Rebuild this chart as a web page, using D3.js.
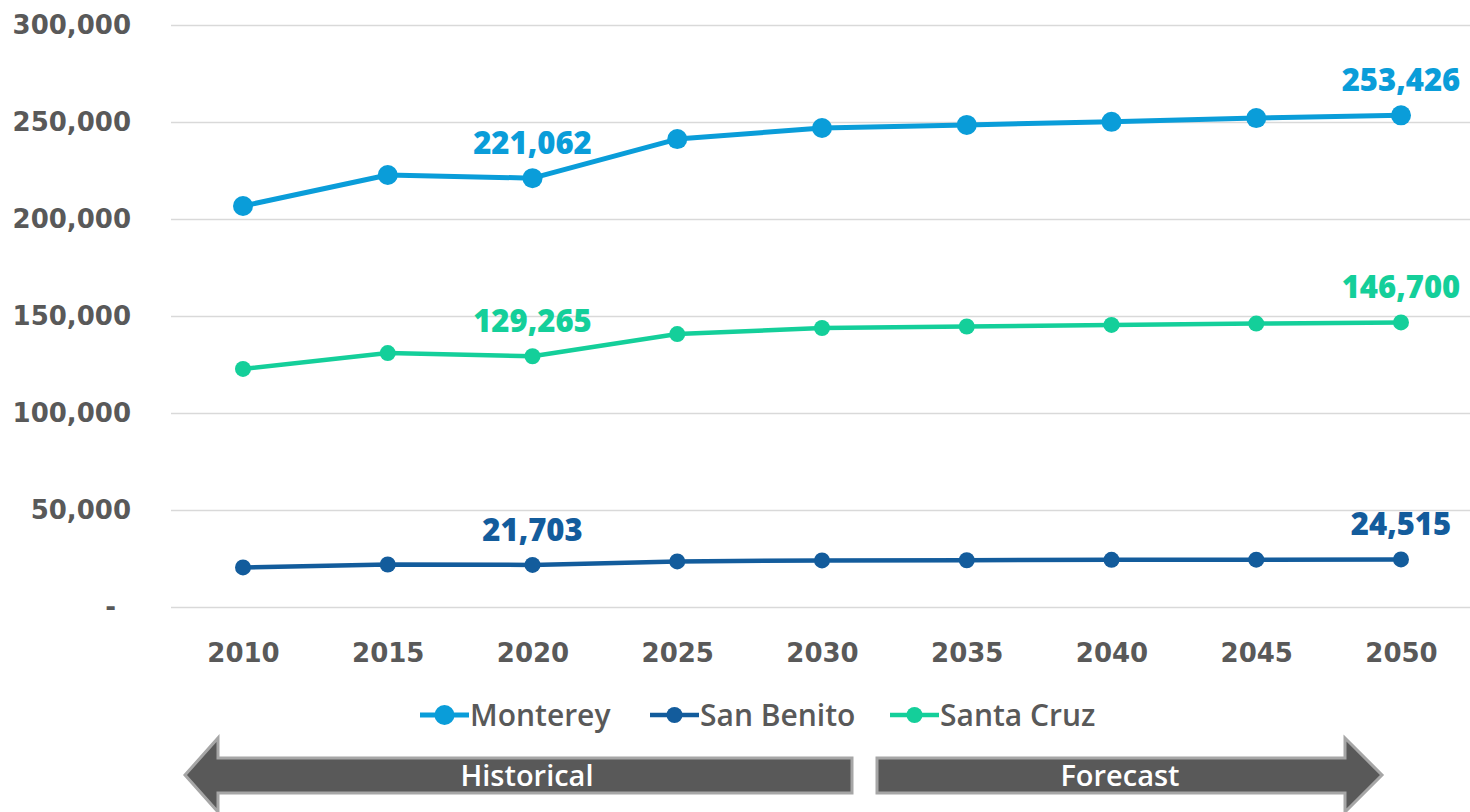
<!DOCTYPE html>
<html lang="en">
<head>
  <meta charset="UTF-8">
  <title>Population by County</title>
  <script src="https://d3js.org/d3.v7.min.js"></script>
  <style>
    body { margin: 0; background: #fff; }
    .ytick text, .xtick text { font-family: "DejaVu Sans", sans-serif; font-weight: bold; fill: #595959; }
    .lbl { font-family: "Open Sans", sans-serif; font-weight: 800; }
    .legend text { font-family: "Open Sans", sans-serif; font-weight: 600; fill: #595959; }
    .arrow-text { font-family: "Open Sans", sans-serif; font-weight: 600; fill: #fff; }
  </style>
</head>
<body>
  <div id="chart"></div>
  <script>
    // data
    const years = [2010, 2015, 2020, 2025, 2030, 2035, 2040, 2045, 2050];
    const monterey = [206700, 222700, 221062, 241200, 246900, 248500, 250100, 252000, 253426];
    const sanBenito = [20400, 21900, 21703, 23500, 24000, 24100, 24300, 24400, 24515];
    const santaCruz = [122700, 130900, 129265, 140700, 143800, 144600, 145400, 146100, 146700];
    const yTicks = [0, 50000, 100000, 150000, 200000, 250000, 300000];
    const labelYears = [2020, 2050];

    const series = [
      { name: 'Monterey', values: monterey, color: '#0a9dd9', r: 10, w: 5 },
      { name: 'San Benito', values: sanBenito, color: '#135c9c', r: 8, w: 4.5 },
      { name: 'Santa Cruz', values: santaCruz, color: '#14cf9a', r: 8, w: 4.5 }
    ];

    const width = 1470, height = 812;
    const svg = d3.select('#chart').append('svg')
      .attr('width', width).attr('height', height);

    const x = d3.scalePoint().domain(years).range([243, 1401]);
    const y = d3.scaleLinear().domain([0, 300000]).range([607, 25]);

    // gridlines + y labels
    const yAxis = svg.append('g')
      .attr('class', 'ytick')
      .attr('transform', 'translate(171,0)')
      .call(d3.axisLeft(y).tickValues(yTicks)
        .tickSize(-(width - 171)).tickPadding(40)
        .tickFormat(d => d === 0 ? '-' : d3.format(',')(d)));
    yAxis.select('.domain').remove();
    yAxis.selectAll('line').attr('stroke', '#d9d9d9').attr('stroke-width', 1.5);
    yAxis.selectAll('text').attr('font-size', 26)
      .attr('dx', d => d === 0 ? -15 : 0);

    // x labels
    const xAxis = svg.append('g')
      .attr('class', 'xtick')
      .attr('transform', 'translate(0,607)')
      .call(d3.axisBottom(x).tickSize(0).tickPadding(37));
    xAxis.select('.domain').remove();
    xAxis.selectAll('text').attr('font-size', 26);

    // lines
    const line = d3.line()
      .x((d, i) => x(years[i]))
      .y(d => y(d));

    series.forEach(s => {
      svg.append('path')
        .datum(s.values)
        .attr('fill', 'none')
        .attr('stroke', s.color)
        .attr('stroke-width', s.w)
        .attr('stroke-linejoin', 'round')
        .attr('d', line);

      svg.selectAll(null)
        .data(s.values)
        .enter().append('circle')
        .attr('cx', (d, i) => x(years[i]))
        .attr('cy', d => y(d))
        .attr('r', s.r)
        .attr('fill', s.color);

      svg.selectAll(null)
        .data(s.values.filter((d, i) => labelYears.includes(years[i])))
        .enter().append('text')
        .attr('class', 'lbl')
        .attr('x', d => x(years[s.values.indexOf(d)]))
        .attr('y', d => y(d) - 35)
        .attr('dy', '0.35em')
        .attr('text-anchor', 'middle')
        .attr('font-size', 31)
        .attr('fill', s.color)
        .text(d => d3.format(',')(d));
    });

    // legend
    const legendX = [420, 650, 890];
    const legend = svg.append('g').attr('class', 'legend');
    series.forEach((s, i) => {
      const g = legend.append('g').attr('transform', `translate(${legendX[i]},715)`);
      g.append('line').attr('x1', 0).attr('x2', 49)
        .attr('stroke', s.color).attr('stroke-width', s.w);
      g.append('circle').attr('cx', 24.5).attr('r', s.r).attr('fill', s.color);
      g.append('text').attr('x', 50).attr('dy', '0.35em')
        .attr('font-size', 30).text(s.name);
    });

    // historical / forecast arrows
    const arrows = [
      { label: 'Historical', cx: 527,
        pts: [[185, 775], [218, 738], [218, 758], [852, 758], [852, 793], [218, 793], [218, 812]] },
      { label: 'Forecast', cx: 1120,
        pts: [[877, 758], [1345, 758], [1345, 738], [1382, 775], [1345, 812], [1345, 793], [877, 793]] }
    ];
    arrows.forEach(a => {
      svg.append('polygon')
        .attr('points', a.pts.map(p => p.join(',')).join(' '))
        .attr('fill', '#595959')
        .attr('stroke', '#a6a6a6')
        .attr('stroke-width', 3);
      svg.append('text')
        .attr('class', 'arrow-text')
        .attr('x', a.cx).attr('y', 776)
        .attr('dy', '0.35em')
        .attr('text-anchor', 'middle')
        .attr('font-size', 29)
        .text(a.label);
    });
  </script>
</body>
</html>
